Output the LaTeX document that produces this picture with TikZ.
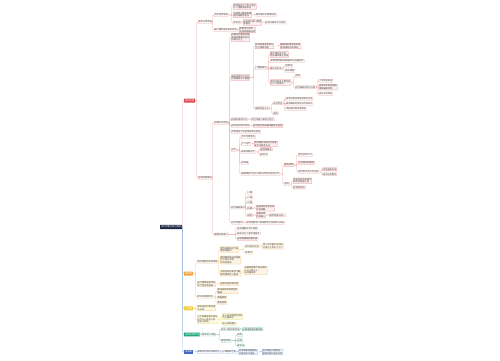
\documentclass[tikz,border=0pt]{standalone}
\usepackage{fontspec}
\newfontfamily\cjk{Noto Sans CJK SC}
\definecolor{txt}{HTML}{444444}
\definecolor{navy}{HTML}{1E2A44}
\definecolor{redh}{HTML}{E0474C}
\definecolor{redln}{HTML}{F0A8A8}
\definecolor{redbd}{HTML}{E58A8A}
\definecolor{redbg}{HTML}{FDEFEF}
\definecolor{orh}{HTML}{F2A23A}
\definecolor{orln}{HTML}{F5CC8E}
\definecolor{orbd}{HTML}{F0C27C}
\definecolor{orbg}{HTML}{FDF4E4}
\definecolor{yeh}{HTML}{F2CC2E}
\definecolor{yeln}{HTML}{EADC7A}
\definecolor{yebd}{HTML}{E6D470}
\definecolor{yebg}{HTML}{FDF9DF}
\definecolor{grh}{HTML}{17A67A}
\definecolor{grln}{HTML}{7FD0AC}
\definecolor{grbd}{HTML}{5EC096}
\definecolor{grbg}{HTML}{E3F5EC}
\definecolor{blh}{HTML}{3E64C8}
\definecolor{blln}{HTML}{9FB4E8}
\definecolor{blbd}{HTML}{8FA6E2}
\definecolor{blbg}{HTML}{EEF2FC}
\definecolor{trunk}{HTML}{8FB2DD}
\tikzset{
  base/.style={font=\cjk\fontsize{2.2}{2.5}\selectfont, inner sep=0.5pt, anchor=west, align=left, text=txt, line width=0.25pt, rounded corners=0.3pt},
  ln/.style={line width=0.4pt, rounded corners=0.8pt},
  rootn/.style={base, fill=navy, text=white, inner sep=1pt},
  head/.style={base, text=white, inner sep=0.9pt, font=\cjk\fontsize{2.3}{2.6}\selectfont},
  rt/.style={base, draw=redln, fill=white},
  rb/.style={base, draw=redbd, fill=redbg},
  ot/.style={base, draw=orln, fill=white},
  ob/.style={base, draw=orbd, fill=orbg},
  yt/.style={base, draw=yeln, fill=white},
  yb/.style={base, draw=yebd, fill=yebg},
  gt/.style={base, draw=grln, fill=white},
  gb/.style={base, draw=grbd, fill=grbg},
  bt/.style={base, draw=blln, fill=white},
  bb/.style={base, draw=blbd, fill=blbg},
}
\newcommand\lk[3]{\draw[ln,#1] (#2.east) -| ([xshift=-1.3pt]#3.west) -- (#3.west);}
\begin{document}
\begin{tikzpicture}[x=1pt,y=-1pt]
\fill[white] (0,0) rectangle (500,360);
\useasboundingbox (0,0) rectangle (500,360);

% root and main branches
\node[rootn] (R) at (160,227) {内科学重点知识梳理};
\node[head, fill=redh] (B1) at (184,100.7) {消化系统};
\node[head, fill=orh] (B2) at (184,273.7) {呼吸病};
\node[head, fill=yeh] (B3) at (184,308.4) {心血管};
\node[head, fill=grh] (B4) at (184,334.5) {泌尿系统疾病};
\node[head, fill=blh] (B5) at (184,352) {血液病};

% ---------- red subtree ----------
\node[rt] (N1) at (198,22) {胃炎与溃疡病};
\node[rt] (N1a) at (214,15) {消化性溃疡病};
\node[rt] (N1b) at (214,30) {幽门螺杆菌感染的检测};
\node[rb] (N1a1) at (233,6.5) {胃溃疡多见于胃小弯侧\\十二指肠球部多见};
\node[rb] (N1a2) at (233,14.8) {节律性上腹部疼痛\\慢性周期性发作};
\node[rt] (N1a2c) at (255.5,14.8) {餐后痛与饥饿痛区别};
\node[rt] (N1a3) at (233,22.5) {并发症};
\node[rb] (N1a3b) at (243,22.5) {出血穿孔幽门梗阻\\及癌变};
\node[rt] (N1a3c) at (265,22.5) {出血为最常见并发症};
\node[rb] (N1bb) at (239,30) {尿素呼气试验\\快速尿素酶试验};

\node[rt] (N2) at (198,178) {肝脏疾病概述};
\node[rt] (N2a) at (214,123) {肝硬化与肝癌};
\node[rt] (N2c) at (214,234.5) {胰腺疾病要点};

\node[rb] (c1) at (231,37.5) {肝硬化为慢性肝病\\发展的晚期阶段以\\纤维化为主};
\node[rb] (c2) at (231,77.5) {临床表现可以分为\\代偿期和失代偿期};
\node[rb] (d1) at (255,46) {肝功能减退表现为\\乏力纳差消瘦};
\node[rb] (d1b) at (280,46) {蜘蛛痣肝掌男性乳房\\发育黄疸出血倾向};
\node[rt] (d2) at (255,68) {门静脉高压};
\node[rb] (e1) at (270,54.5) {脾大脾功能亢进\\侧支循环建立开放};
\node[rt] (e2) at (270,61) {食管胃底静脉曲张破裂出血最危险};
\node[rt] (e3) at (270,68.3) {腹水的形成};
\node[rt] (f1) at (285,66) {低蛋白};
\node[rt] (f2) at (285,71) {钠水潴留};
\node[rb] (e4) at (270,82.5) {常见并发症主要包括\\以下几种情况};
\node[rt] (f3) at (295,76) {感染};
\node[rt] (f4) at (295,87.3) {肝性脑病诱因与分期};
\node[rt] (g1) at (318.5,80.7) {上消化道出血};
\node[rb] (g2) at (318.5,87.3) {高蛋白饮食及便秘\\镇静催眠药物};
\node[rt] (g3) at (318.5,93.6) {感染与低钾血};
\node[rt] (d3) at (255,108.3) {辅助检查方法};
\node[rt] (e5) at (273,103.3) {实验检查};
\node[rt] (e6) at (273,113.3) {超声};
\node[rt] (f5) at (285.5,99) {血清白蛋白降低球蛋白升高};
\node[rt] (f6) at (285.5,104) {凝血酶原时间延长不能纠正};
\node[rt] (f7) at (285.5,109) {甲胎蛋白明显增高者};

\node[rt] (c3) at (231,119.3) {肝癌的临床特点};
\node[rt] (c3b) at (251,119.3) {肝区疼痛为最常见症状};
\node[rt] (c4) at (231,125.8) {原发性肝癌的转移};
\node[rb] (c4b) at (253,125.8) {肝内血行转移最早最常见途径};
\node[rt] (c5) at (231,132) {甲胎蛋白为肝癌筛查首选指标};
\node[rt] (c6) at (231,150) {治疗};
\node[rt] (h1) at (241,137) {手术切除首选};
\node[rt] (h2) at (241,144) {介入治疗};
\node[rb] (h2b) at (254,144) {经导管肝动脉化疗栓塞\\非手术首选方法};
\node[rt] (h3) at (241,152) {局部消融治疗};
\node[rb] (i1) at (260,149.3) {射频消融术};
\node[rt] (i2) at (260,154.6) {微波法};
\node[rt] (h4) at (241,163) {肝移植};
\node[rt] (h5) at (241,174) {晚期患者可选分子靶向药物与免疫治疗};
\node[rb] (j1) at (284,165) {靶向药物};
\node[rt] (k1) at (298,155) {索拉非尼片剂};
\node[rb] (k2) at (298,162.7) {仑伐替尼胶囊剂};
\node[rt] (k3) at (298,171.7) {常见的不良反应包括};
\node[rb] (l1) at (322.5,169.3) {手足皮肤反应};
\node[rt] (l2) at (322.5,174.3) {高血压和腹泻};
\node[rt] (j2) at (284,184) {免疫};
\node[rb] (k4) at (293,180.8) {免疫检查点抑制剂\\联合抗血管生成};
\node[rb] (k5) at (293,187.4) {疗效的评估};

\node[rt] (c7) at (231,207.5) {肝性脑病要点};
\node[rt] (m1) at (247,192.7) {一期};
\node[rt] (m2) at (247,197.4) {二期};
\node[rt] (m3) at (247,202.2) {三期};
\node[rt] (m4) at (247,208.3) {四期};
\node[rb] (m4b) at (256,208.3) {昏迷神志完全丧失\\不能唤醒};
\node[rt] (m5) at (247,215.3) {诱因};
\node[rb] (m5b) at (256,215.3) {高蛋白质\\饮食摄入};
\node[rt] (m5c) at (269,215.3) {需限制蛋白摄入};
\node[rt] (c8) at (231,222.7) {治疗的原则};
\node[rt] (c8b) at (246,222.7) {去除诱因减少肠道氨的生成吸收与排出};

\node[rt] (n1) at (237,228.5) {急性胰腺炎常见病因};
\node[rt] (n2) at (237,233.5) {胆石症与大量饮酒暴食};
\node[rb] (n3) at (237,238.8) {血淀粉酶脂肪酶升高};

% ---------- orange subtree ----------
\node[ot] (o1) at (197,261.7) {慢性阻塞性肺部疾病};
\node[ob] (p1) at (220,249.5) {慢性咳嗽咳痰气短\\喘息和胸闷};
\node[ot] (q1) at (245,246.3) {肺功能的检查};
\node[ob] (q1b) at (262.5,246.3) {吸入支气管扩张剂后\\比值小于百分之七十};
\node[ot] (q2) at (245,252.8) {影像学};
\node[ob] (p2) at (220,260) {桶状胸呼吸运动减弱\\叩诊呈过清音\\呼吸音减弱};
\node[ob] (p3) at (220,273.3) {并发症有自发性气胸\\慢性肺源性心脏病};
\node[ob] (p3b) at (244,270.5) {长期家庭氧疗每天持续\\十五小时以上\\低流量吸氧};
\node[ob] (o2) at (197,284) {支气管哮喘发作时\\呼气性呼吸困难};
\node[ob] (o2b) at (220,284) {双肺可闻及哮鸣音};
\node[ot] (o3) at (197,297) {肺炎链球菌肺炎};
\node[ob] (r1) at (217,291) {寒战高热咳铁锈色痰\\胸痛};
\node[ob] (r2) at (217,297.4) {青霉素类};
\node[ob] (r3) at (217,302.8) {首选药物};

% ---------- yellow subtree ----------
\node[yb] (s1) at (197,308) {高血压的诊断标准\\与分级};
\node[yb] (s2) at (197,319.5) {心力衰竭按发生部位\\分为左心衰右心衰\\和全心衰竭};
\node[yb] (t1) at (222,316.5) {左心衰以肺循环淤血\\为主要表现};
\node[yb] (t2) at (222,323.6) {右心衰体循环};

% ---------- green subtree ----------
\node[gt] (u1) at (201.5,334.5) {原发肾小球病};
\node[gt] (v1) at (221,329.3) {常见于链球菌感染};
\node[gb] (v1b) at (242,329.3) {三周出现血尿蛋白尿};
\node[gt] (v2) at (221,340.7) {典型表现};
\node[gt] (w1) at (237,335) {血尿};
\node[gt] (w2) at (237,340.2) {水肿};
\node[gt] (w3) at (237,345.4) {高血压};

% ---------- blue subtree ----------
\node[bt] (x1) at (197,352) {缺铁性贫血的血象特点};
\node[bt] (x2) at (222,352) {小细胞低色素};
\node[bb] (x3) at (238.5,352) {血清铁蛋白量降低\\总铁结合力增高};
\node[bb] (x4) at (262,352) {治疗首选口服铁剂\\服用至血红蛋白正常};

% ---------- connectors ----------
\begin{scope}[on background layer/.try]
\end{scope}
\lk{trunk}{R}{B2}
\lk{trunk}{R}{B3}
\lk{trunk}{R}{B4}
\lk{trunk}{R}{B5}
\lk{redln}{R}{B1}

\lk{redln}{B1}{N1} \lk{redln}{B1}{N2}
\lk{redln}{N1}{N1a} \lk{redln}{N1}{N1b}
\lk{redln}{N1a}{N1a1} \lk{redln}{N1a}{N1a2} \lk{redln}{N1a}{N1a3}
\lk{redln}{N1a2}{N1a2c} \lk{redln}{N1a3}{N1a3b} \lk{redln}{N1a3b}{N1a3c}
\lk{redln}{N1b}{N1bb}
\lk{redln}{N2}{N2a} \lk{redln}{N2}{N2c}
\lk{redln}{N2a}{c1} \lk{redln}{N2a}{c2} \lk{redln}{N2a}{c3} \lk{redln}{N2a}{c4}
\lk{redln}{N2a}{c5} \lk{redln}{N2a}{c6} \lk{redln}{N2a}{c7} \lk{redln}{N2a}{c8}
\lk{redln}{c2}{d1} \lk{redln}{c2}{d2} \lk{redln}{c2}{d3}
\lk{redln}{d1}{d1b}
\lk{redln}{d2}{e1} \lk{redln}{d2}{e2} \lk{redln}{d2}{e3} \lk{redln}{d2}{e4}
\lk{redln}{e3}{f1} \lk{redln}{e3}{f2}
\lk{redln}{e4}{f3} \lk{redln}{e4}{f4}
\lk{redln}{f4}{g1} \lk{redln}{f4}{g2} \lk{redln}{f4}{g3}
\lk{redln}{d3}{e5} \lk{redln}{d3}{e6}
\lk{redln}{e5}{f5} \lk{redln}{e5}{f6} \lk{redln}{e5}{f7}
\lk{redln}{c3}{c3b} \lk{redln}{c4}{c4b}
\lk{redln}{c6}{h1} \lk{redln}{c6}{h2} \lk{redln}{c6}{h3} \lk{redln}{c6}{h4} \lk{redln}{c6}{h5}
\lk{redln}{h2}{h2b} \lk{redln}{h3}{i1} \lk{redln}{h3}{i2}
\lk{redln}{h5}{j1} \lk{redln}{h5}{j2}
\lk{redln}{j1}{k1} \lk{redln}{j1}{k2} \lk{redln}{j1}{k3}
\lk{redln}{k3}{l1} \lk{redln}{k3}{l2}
\lk{redln}{j2}{k4} \lk{redln}{j2}{k5}
\lk{redln}{c7}{m1} \lk{redln}{c7}{m2} \lk{redln}{c7}{m3} \lk{redln}{c7}{m4} \lk{redln}{c7}{m5}
\lk{redln}{m4}{m4b} \lk{redln}{m5}{m5b} \lk{redln}{m5b}{m5c}
\lk{redln}{c8}{c8b}
\lk{redln}{N2c}{n1} \lk{redln}{N2c}{n2} \lk{redln}{N2c}{n3}

\lk{orln}{B2}{o1} \lk{orln}{B2}{o2} \lk{orln}{B2}{o3}
\lk{orln}{o1}{p1} \lk{orln}{o1}{p2} \lk{orln}{o1}{p3}
\lk{orln}{p1}{q1} \lk{orln}{p1}{q2} \lk{orln}{q1}{q1b}
\lk{orln}{p3}{p3b} \lk{orln}{o2}{o2b}
\lk{orln}{o3}{r1} \lk{orln}{o3}{r2} \lk{orln}{o3}{r3}

\lk{yeln}{B3}{s1} \lk{yeln}{B3}{s2}
\lk{yeln}{s2}{t1} \lk{yeln}{s2}{t2}

\lk{grln}{B4}{u1}
\lk{grln}{u1}{v1} \lk{grln}{u1}{v2}
\lk{grln}{v1}{v1b}
\lk{grln}{v2}{w1} \lk{grln}{v2}{w2} \lk{grln}{v2}{w3}

\lk{blln}{B5}{x1} \lk{blln}{x1}{x2} \lk{blln}{x2}{x3} \lk{blln}{x3}{x4}
\end{tikzpicture}
\end{document}
